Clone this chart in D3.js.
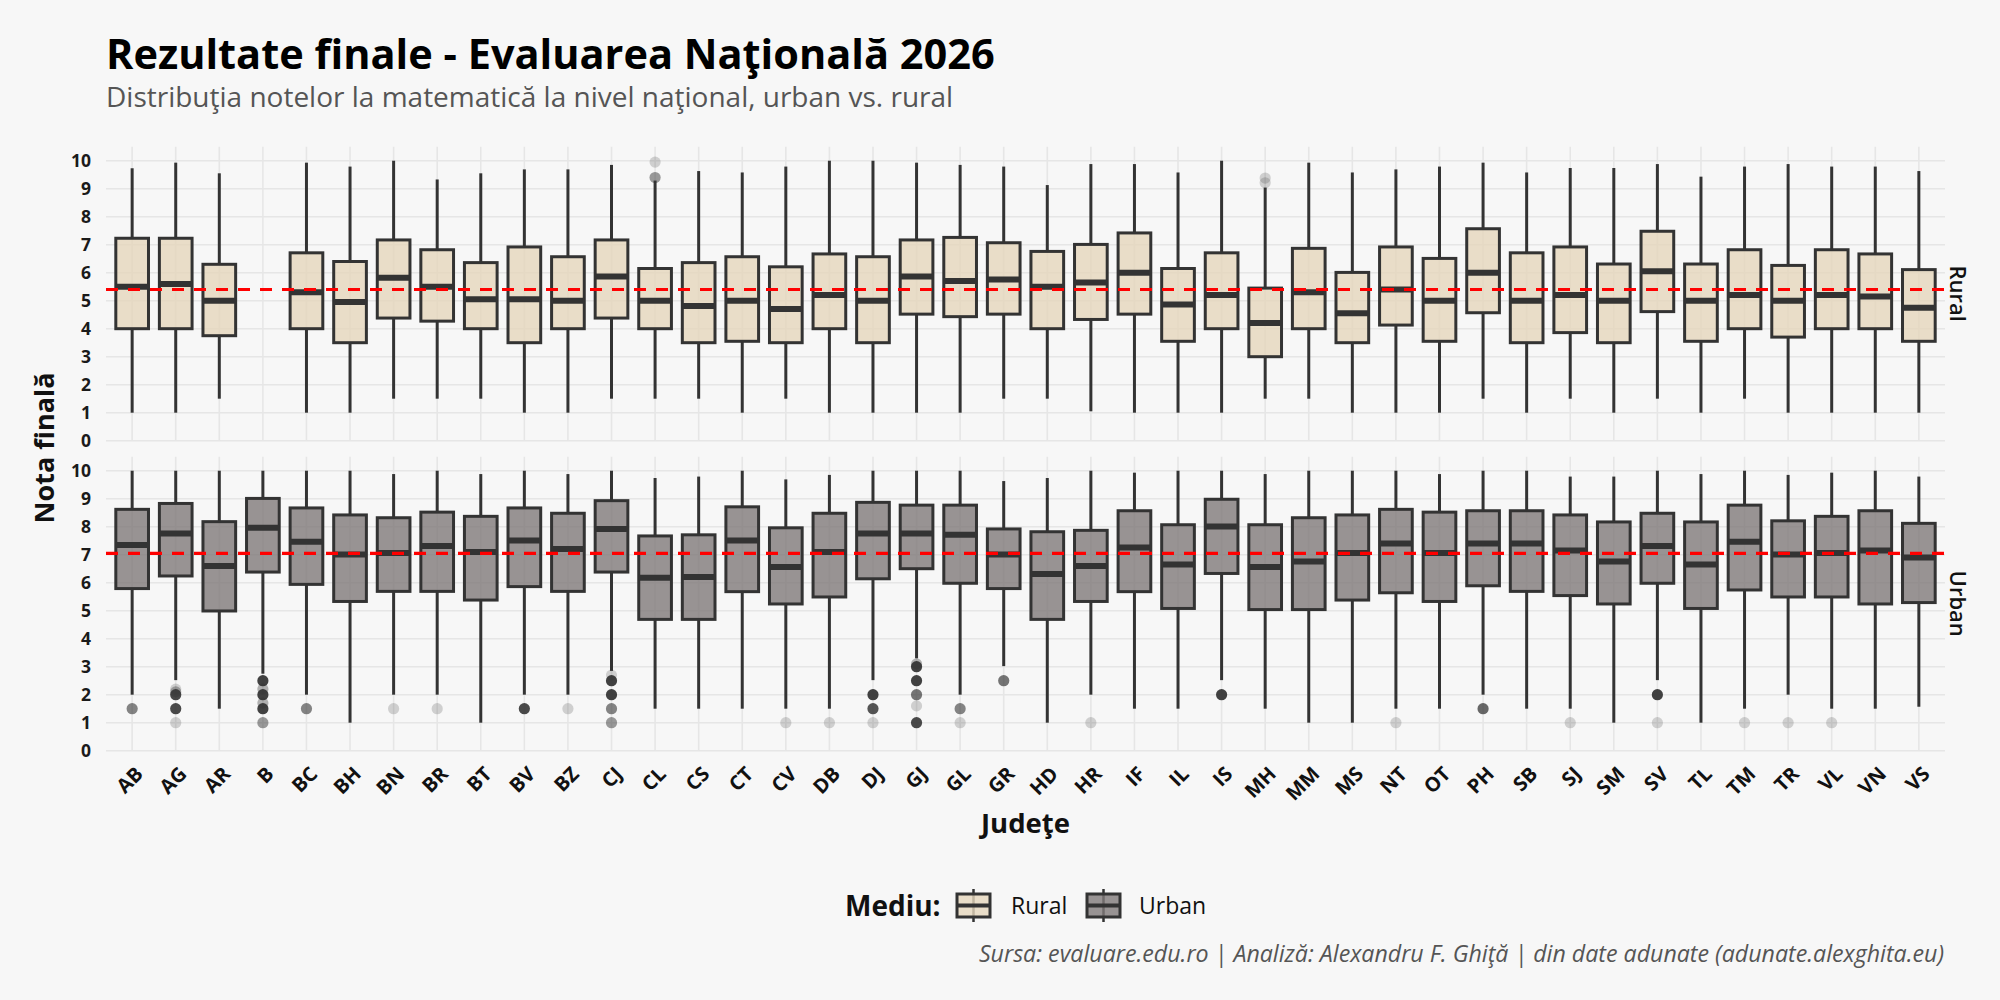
<!DOCTYPE html>
<html><head><meta charset="utf-8">
<script src="https://cdn.jsdelivr.net/npm/d3@7"></script>
<style>
html,body{margin:0;padding:0;background:#f7f7f7;}
svg{display:block;font-family:"Open Sans","Noto Sans",sans-serif;}
</style></head>
<body><svg id="chart" width="2000" height="1000"></svg>
<script>
const counties = ["AB","AG","AR","B","BC","BH","BN","BR","BT","BV","BZ","CJ","CL","CS","CT","CV","DB","DJ","GJ","GL","GR","HD","HR","IF","IL","IS","MH","MM","MS","NT","OT","PH","SB","SJ","SM","SV","TL","TM","TR","VL","VN","VS"];
const yTicks = [0,1,2,3,4,5,6,7,8,9,10];

// Rural: whisker low, Q1, median, Q3, whisker high (null = no rural data)
const ruralLow  = [1.0,1.0,1.5,null,1.0,1.0,1.5,1.5,1.5,1.0,1.0,1.5,1.5,1.5,1.0,1.5,1.0,1.0,1.0,1.0,1.5,1.5,1.05,1.0,1.0,1.0,1.5,1.5,1.0,1.0,1.0,1.5,1.0,1.5,1.0,1.5,1.0,1.5,1.0,1.0,1.0,1.0];
const ruralQ1   = [4.0,4.0,3.75,null,4.0,3.5,4.38,4.27,4.0,3.5,4.0,4.38,4.0,3.5,3.55,3.5,4.0,3.5,4.52,4.43,4.52,4.0,4.33,4.52,3.55,4.0,3.0,4.0,3.5,4.13,3.55,4.57,3.5,3.86,3.5,4.61,3.55,4.0,3.7,4.0,4.0,3.55];
const ruralMed  = [5.5,5.6,5.0,null,5.3,4.95,5.82,5.5,5.05,5.05,5.0,5.86,5.0,4.81,5.0,4.7,5.2,5.0,5.86,5.7,5.76,5.5,5.65,6.0,4.86,5.2,4.2,5.3,4.55,5.4,5.0,6.0,5.0,5.2,5.0,6.05,5.0,5.2,5.0,5.2,5.15,4.75];
const ruralQ3   = [7.23,7.23,6.3,null,6.71,6.4,7.17,6.82,6.36,6.92,6.57,7.17,6.15,6.36,6.57,6.21,6.67,6.57,7.17,7.26,7.07,6.76,7.01,7.42,6.15,6.71,5.45,6.87,6.01,6.92,6.51,7.57,6.71,6.92,6.31,7.48,6.31,6.82,6.26,6.82,6.67,6.11];
const ruralHigh = [9.73,9.93,9.55,null,9.93,9.79,10,9.33,9.55,9.69,9.69,9.85,9.29,9.63,9.58,9.79,10,10,9.93,9.85,9.79,9.13,9.88,9.88,9.58,10,9.04,9.93,9.58,9.69,9.79,9.93,9.58,9.74,9.74,9.88,9.43,9.79,9.88,9.79,9.79,9.63];

// Urban
const urbanLow  = [2.0,2.52,1.5,2.75,2.0,1.0,2.0,2.0,1.0,2.0,2.0,2.85,1.5,1.5,1.5,1.5,1.5,2.52,3.3,2.0,3.02,1.0,2.0,1.5,1.5,2.52,1.5,1.0,1.0,1.5,1.5,2.0,1.5,1.5,1.0,2.52,1.0,1.5,2.0,1.5,1.5,1.57];
const urbanQ1   = [5.79,6.24,4.99,6.38,5.94,5.33,5.69,5.69,5.38,5.86,5.69,6.38,4.69,4.69,5.68,5.24,5.49,6.14,6.5,5.98,5.79,4.69,5.33,5.68,5.08,6.33,5.04,5.04,5.38,5.64,5.33,5.89,5.69,5.54,5.24,5.98,5.08,5.74,5.49,5.49,5.24,5.29];
const urbanMed  = [7.35,7.76,6.6,7.96,7.46,7.01,7.06,7.31,7.1,7.51,7.2,7.92,6.18,6.2,7.51,6.56,7.1,7.76,7.76,7.71,7.01,6.31,6.6,7.26,6.65,8.01,6.56,6.76,7.06,7.4,7.06,7.4,7.4,7.15,6.76,7.31,6.65,7.46,7.01,7.06,7.15,6.9];
const urbanQ3   = [8.62,8.83,8.18,9.01,8.67,8.42,8.32,8.52,8.37,8.67,8.48,8.93,7.67,7.71,8.71,7.96,8.48,8.87,8.77,8.77,7.92,7.82,7.87,8.57,8.07,8.98,8.07,8.32,8.42,8.62,8.52,8.57,8.57,8.42,8.17,8.48,8.17,8.77,8.21,8.37,8.57,8.12];
const urbanHigh = [10,10,10,10,10,10,9.88,10,9.88,10,9.88,10,9.74,9.79,10,9.69,9.85,10,10,10,9.63,9.74,10,9.93,10,10,9.88,10,10,10,9.88,10,10,9.79,9.79,10,9.88,10,9.85,9.93,10,9.79];

// Outliers: county, value, number of overlapping students
const ruralOutCounty = ["CL","CL","MH","MH"];
const ruralOutValue  = [9.95,9.4,9.38,9.21];
const ruralOutCount  = [1,3,1,1];

const urbanOutCounty = ["AB","AG","AG","AG","AG","AG","B","B","B","B","B","B","BC","BN","BR","BV","BZ","CJ","CJ","CJ","CJ","CJ","CV","DB","DJ","DJ","DJ","GJ","GJ","GJ","GJ","GJ","GJ","GL","GL","GR","HR","IS","NT","PH","SJ","SV","SV","TM","TR","VL"];
const urbanOutValue  = [1.5,2.2,2.1,2.0,1.5,1.0,2.5,2.2,2.0,1.7,1.5,1.0,1.5,1.5,1.5,1.5,1.5,2.7,2.5,2.0,1.5,1.0,1.0,1.0,2.0,1.5,1.0,3.1,3.0,2.5,2.0,1.6,1.0,1.5,1.0,2.5,1.0,2.0,1.0,1.5,1.0,2.0,1.0,1.0,1.0,1.0];
const urbanOutCount  = [4,1,2,10,10,1,12,2,12,2,12,3,4,1,1,10,1,1,12,12,4,3,1,1,12,8,1,2,12,12,5,1,10,4,1,5,1,12,1,6,1,12,1,1,1,1];

const ruralMean = 5.40;
const urbanMean = 7.05;

const legendLabels = ["Rural","Urban"];

// ---------- drawing ----------
const svg = d3.select("#chart");
const left = 106, right = 1945;
const fills = {Rural:"#e5d6bb", Urban:"#7f7979"};
const dark = "#333333";

const x = d3.scalePoint().domain(counties).range([left, right]).padding(0.6);
const boxW = x.step() * 0.75;

const panels = [
  {name:"Rural", y: d3.scaleLinear().domain([0,10]).range([440.7,160.7]),
   low:ruralLow,q1:ruralQ1,med:ruralMed,q3:ruralQ3,high:ruralHigh,
   oc:ruralOutCounty,ov:ruralOutValue,on:ruralOutCount,mean:ruralMean},
  {name:"Urban", y: d3.scaleLinear().domain([0,10]).range([750.7,470.7]),
   low:urbanLow,q1:urbanQ1,med:urbanMed,q3:urbanQ3,high:urbanHigh,
   oc:urbanOutCounty,ov:urbanOutValue,on:urbanOutCount,mean:urbanMean}
];

// Title
svg.append("text").attr("x",left).attr("y",69).attr("font-size",41.5).attr("font-weight",700)
  .attr("fill","#000").text("Rezultate finale - Evaluarea Naţională 2026");
svg.append("text").attr("x",left).attr("y",107).attr("font-size",28).attr("fill","#555")
  .text("Distribuţia notelor la matematică la nivel naţional, urban vs. rural");

panels.forEach(p => {
  const y = p.y;
  const top = y(10.5), bottom = y(0);
  const g = svg.append("g");
  g.selectAll(".hg").data(yTicks).join("line")
    .attr("x1",left).attr("x2",right).attr("y1",d=>y(d)).attr("y2",d=>y(d))
    .attr("stroke","#e6e6e6").attr("stroke-width",1.6);
  g.selectAll(".vg").data(counties).join("line")
    .attr("x1",d=>x(d)).attr("x2",d=>x(d)).attr("y1",top).attr("y2",bottom)
    .attr("stroke","#e6e6e6").attr("stroke-width",1.6);
  const ax = d3.axisLeft(y).tickValues(yTicks).tickSize(0).tickPadding(0).tickFormat(d3.format("d"));
  const axg = svg.append("g").attr("transform",`translate(${91},0)`).call(ax);
  axg.select(".domain").remove();
  axg.selectAll("text").attr("font-size",17.5).attr("font-weight",700).attr("fill","#1a1a1a")
    .attr("font-family","'Open Sans','Noto Sans',sans-serif");

  const rows = counties.map((c,i)=>({c, low:p.low[i], q1:p.q1[i], med:p.med[i], q3:p.q3[i], high:p.high[i]}))
    .filter(d=>d.med!==null);
  const bg = svg.append("g");
  bg.selectAll(".wh").data(rows).join("line")
    .attr("x1",d=>x(d.c)).attr("x2",d=>x(d.c)).attr("y1",d=>y(d.high)).attr("y2",d=>y(d.q3))
    .attr("stroke",dark).attr("stroke-width",3);
  bg.selectAll(".wl").data(rows).join("line")
    .attr("x1",d=>x(d.c)).attr("x2",d=>x(d.c)).attr("y1",d=>y(d.q1)).attr("y2",d=>y(d.low))
    .attr("stroke",dark).attr("stroke-width",3);
  const outs = p.oc.map((c,i)=>({c, v:p.ov[i], n:p.on[i]}));
  bg.selectAll(".out").data(outs).join("circle")
    .attr("cx",d=>x(d.c)).attr("cy",d=>y(d.v)).attr("r",5.6)
    .attr("fill",dark).attr("fill-opacity",d=>1-Math.pow(0.8,d.n));
  bg.selectAll(".bx").data(rows).join("rect")
    .attr("x",d=>x(d.c)-boxW/2).attr("width",boxW)
    .attr("y",d=>y(d.q3)).attr("height",d=>y(d.q1)-y(d.q3))
    .attr("fill",fills[p.name]).attr("fill-opacity",0.8)
    .attr("stroke",dark).attr("stroke-width",3);
  bg.selectAll(".md").data(rows).join("line")
    .attr("x1",d=>x(d.c)-boxW/2).attr("x2",d=>x(d.c)+boxW/2)
    .attr("y1",d=>y(d.med)).attr("y2",d=>y(d.med))
    .attr("stroke",dark).attr("stroke-width",6);
  svg.append("line").attr("x1",left).attr("x2",right).attr("y1",y(p.mean)).attr("y2",y(p.mean))
    .attr("stroke","#ff0000").attr("stroke-width",3.2).attr("stroke-dasharray","12,10");
  const sy = (top+bottom)/2;
  svg.append("text").attr("transform",`translate(${1950},${sy}) rotate(90)`)
    .attr("text-anchor","middle").attr("font-size",22).attr("font-weight",600).attr("fill","#111")
    .text(p.name);
});

// x labels
svg.append("g").selectAll("text").data(counties).join("text")
  .attr("transform",d=>`translate(${x(d)+2},${765}) rotate(-45)`)
  .attr("text-anchor","end").attr("dy","0.72em").attr("font-size",20).attr("font-weight",700)
  .attr("fill","#111").text(d=>d);

// axis titles
svg.append("text").attr("x",(left+right)/2).attr("y",833).attr("text-anchor","middle")
  .attr("font-size",27.5).attr("font-weight",700).attr("fill","#111").text("Judeţe");
svg.append("text").attr("transform",`translate(${54},${448}) rotate(-90)`).attr("text-anchor","middle")
  .attr("font-size",27).attr("font-weight",700).attr("fill","#111").text("Nota finală");

// legend
const lg = svg.append("g");
lg.append("text").attr("x",845).attr("y",916).attr("font-size",28).attr("font-weight",700).attr("fill","#111").text("Mediu:");
const keyX = [957, 1087], txtX = [1011, 1139];
legendLabels.forEach((lab,i)=>{
  const kx = keyX[i];
  lg.append("line").attr("x1",kx+16.5).attr("x2",kx+16.5).attr("y1",889).attr("y2",922).attr("stroke",dark).attr("stroke-width",2.5);
  lg.append("rect").attr("x",kx).attr("y",894).attr("width",33).attr("height",23)
    .attr("fill",fills[lab]).attr("fill-opacity",0.8).attr("stroke",dark).attr("stroke-width",3);
  lg.append("line").attr("x1",kx).attr("x2",kx+33).attr("y1",905.5).attr("y2",905.5).attr("stroke",dark).attr("stroke-width",4);
  lg.append("text").attr("x",txtX[i]).attr("y",914).attr("font-size",23).attr("fill","#111").text(lab);
});

// caption
svg.append("text").attr("x",1944).attr("y",962).attr("text-anchor","end").attr("font-size",23.2)
  .attr("font-style","italic").attr("fill","#555")
  .text("Sursa: evaluare.edu.ro | Analiză: Alexandru F. Ghiţă | din date adunate (adunate.alexghita.eu)");
</script></body></html>
